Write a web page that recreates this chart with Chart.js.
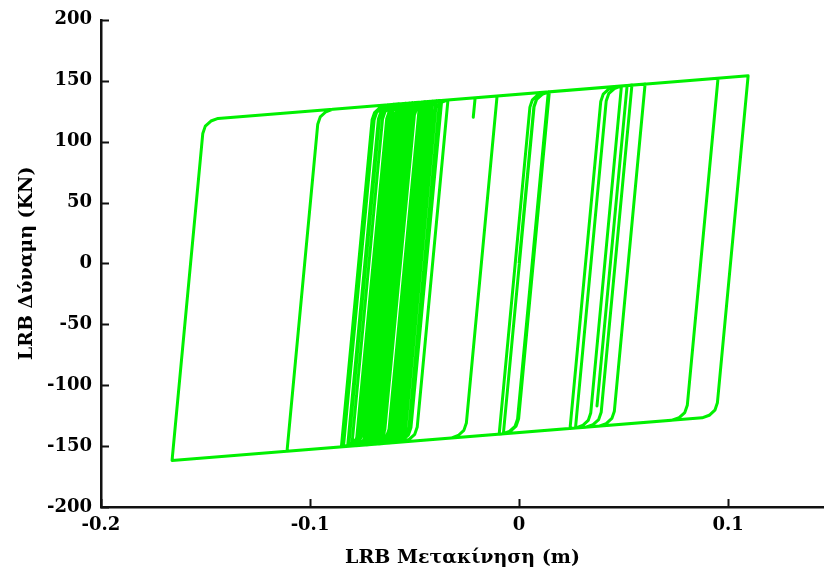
<!DOCTYPE html>
<html>
<head>
<meta charset="utf-8">
<script src="https://cdn.jsdelivr.net/npm/chart.js@4.4.1/dist/chart.umd.min.js"></script>
<style>
	html, body { margin: 0; padding: 0; background: #fff; }
	#wrap { width: 824px; height: 573px; }
</style>
</head>
<body>
<div id="wrap"><canvas id="chartLrb"></canvas></div>
<script>
// LRB hysteresis path, in time order: displacement (m) and force (kN).
// One line per branch: reversal point, then the rounded knee onto the next bound.
const disp = [
	0, 0.0071, 0.0083, 0.0110,
	0.0145, -0.0002, -0.0014, -0.0041,
	-0.0075, 0.0072, 0.0084, 0.0111,
	0.0140, -0.0007, -0.0019, -0.0046, -0.0080,
	-0.0095, 0.0052, 0.0064, 0.0091, 0.0125,
	0.1096, 0.0949, 0.0937, 0.0910, 0.0876,
	-0.1660, -0.1513, -0.1501, -0.1474, -0.1440,
	0.0952, 0.0805, 0.0793, 0.0766, 0.0732,
	-0.1110, -0.0963, -0.0951, -0.0924, -0.0890,
	0.0603, 0.0456, 0.0444, 0.0417, 0.0383,
	0.0244, 0.0391, 0.0403, 0.0430, 0.0464,
	0.0517, 0.0373, 0.0517,
	0.0540, 0.0393, 0.0381, 0.0354, 0.0320,
	0.0270, 0.0417, 0.0429, 0.0456,
	0.0490, 0.0343, 0.0331, 0.0304, 0.0270,
	-0.0560, -0.0413, -0.0401, -0.0374, -0.0340,
	-0.0210, -0.0219, -0.0210,
	-0.0105, -0.0252, -0.0264, -0.0291, -0.0325,
	-0.0780, -0.0633, -0.0621, -0.0594, -0.0560,
	-0.0450, -0.0597, -0.0609, -0.0636, -0.0670,
	-0.0720, -0.0573, -0.0561, -0.0534, -0.0500,
	-0.0380, -0.0527, -0.0539, -0.0566,
	-0.0600, -0.0453, -0.0441, -0.0414, -0.0380,
	-0.0370, -0.0517, -0.0529, -0.0556,
	-0.0590, -0.0443, -0.0431, -0.0404,
	-0.0395, -0.0542, -0.0554, -0.0581, -0.0615,
	-0.0650, -0.0503, -0.0491, -0.0464, -0.0430,
	-0.0420, -0.0567, -0.0579, -0.0606,
	-0.0625, -0.0478, -0.0466, -0.0439,
	-0.0430, -0.0577, -0.0589, -0.0616, -0.0650,
	-0.0690, -0.0543, -0.0531, -0.0504,
	-0.0465, -0.0612, -0.0624, -0.0651, -0.0685,
	-0.0745, -0.0598, -0.0586, -0.0559,
	-0.0520, -0.0667, -0.0679, -0.0706, -0.0740,
	-0.0820, -0.0673, -0.0661, -0.0634,
	-0.0600, -0.0747, -0.0759, -0.0786,
	-0.0815, -0.0668, -0.0656, -0.0629, -0.0595,
	-0.0520, -0.0667, -0.0679, -0.0706,
	-0.0740, -0.0593, -0.0581, -0.0554, -0.0520,
	-0.0460, -0.0607, -0.0619, -0.0646,
	-0.0680, -0.0533, -0.0521, -0.0494, -0.0460,
	-0.0400, -0.0547, -0.0559, -0.0586,
	-0.0610, -0.0463, -0.0451, -0.0424,
	-0.0415, -0.0562, -0.0574, -0.0601, -0.0635,
	-0.0660, -0.0513, -0.0501, -0.0474,
	-0.0440, -0.0587, -0.0599, -0.0626, -0.0660,
	-0.0670, -0.0523, -0.0511, -0.0484,
	-0.0475, -0.0622, -0.0634, -0.0661,
	-0.0700, -0.0553, -0.0541, -0.0514,
	-0.0500, -0.0647, -0.0659, -0.0686,
	-0.0710, -0.0563, -0.0551, -0.0524,
	-0.0495, -0.0642, -0.0654, -0.0681,
	-0.0715, -0.0568, -0.0556, -0.0529, -0.0495,
	-0.0465, -0.0612, -0.0624, -0.0651, -0.0685,
	-0.0730, -0.0583, -0.0571, -0.0544,
	-0.0510, -0.0657, -0.0669, -0.0696, -0.0730,
	-0.0740, -0.0593, -0.0581, -0.0554,
	-0.0525, -0.0672, -0.0684, -0.0711, -0.0745,
	-0.0765, -0.0618, -0.0606, -0.0579,
	-0.0545, -0.0692, -0.0704, -0.0731, -0.0765,
	-0.0850, -0.0703, -0.0691, -0.0664, -0.0630,
	-0.0620, -0.0767, -0.0779, -0.0806,
	-0.0840, -0.0693, -0.0681, -0.0654, -0.0620,
	-0.0575, -0.0722, -0.0734, -0.0761,
	-0.0770, -0.0623, -0.0611, -0.0584,
	-0.0555, -0.0702, -0.0714, -0.0741, -0.0775,
	-0.0800, -0.0653, -0.0641, -0.0614, -0.0580,
	-0.0340, -0.0487, -0.0499, -0.0526,
	-0.0560, -0.0480,
];
const force = [
	0, 128.6, 134.6, 138.8,
	140.9, -127.6, -133.6, -137.8,
	-139.9, 128.6, 134.6, 138.8,
	140.8, -127.7, -133.7, -137.9, -140.0,
	-140.2, 128.3, 134.3, 138.5, 140.6,
	154.0, -114.5, -120.5, -124.7, -126.8,
	-161.8, 106.7, 112.7, 116.9, 119.0,
	152.0, -116.5, -122.5, -126.7, -128.8,
	-154.2, 114.3, 120.3, 124.5, 126.6,
	147.2, -121.3, -127.3, -131.5, -133.6,
	-135.5, 133.0, 139.0, 143.2, 145.3,
	146.0, -117.0, 146.0,
	146.4, -122.2, -128.2, -132.4, -134.5,
	-135.2, 133.3, 139.3, 143.5,
	145.7, -122.9, -128.9, -133.1, -135.2,
	-146.6, 121.9, 127.9, 132.1, 134.2,
	136.0, 120.0, 136.0,
	137.5, -131.1, -137.1, -141.3, -143.4,
	-149.7, 118.8, 124.8, 129.0, 131.1,
	132.7, -135.8, -141.8, -146.0, -148.1,
	-148.8, 119.7, 125.7, 129.9, 132.0,
	133.7, -134.8, -140.8, -145.0,
	-147.2, 121.3, 127.3, 131.5, 133.6,
	133.8, -134.7, -140.7, -144.9,
	-147.0, 121.5, 127.5, 131.7,
	133.5, -135.1, -141.1, -145.3, -147.4,
	-147.9, 120.6, 126.6, 130.8, 132.9,
	133.1, -135.4, -141.4, -145.6,
	-147.5, 121.0, 127.0, 131.2,
	133.0, -135.5, -141.5, -145.7, -147.8,
	-148.4, 120.1, 126.1, 130.3,
	132.5, -136.0, -142.0, -146.2, -148.3,
	-149.2, 119.3, 125.3, 129.5,
	131.7, -136.8, -142.8, -147.0, -149.1,
	-150.2, 118.3, 124.3, 128.5,
	130.6, -137.9, -143.9, -148.1,
	-150.1, 118.4, 124.4, 128.6, 130.7,
	131.7, -136.8, -142.8, -147.0,
	-149.1, 119.4, 125.4, 129.6, 131.7,
	132.6, -135.9, -141.9, -146.1,
	-148.3, 120.2, 126.2, 130.4, 132.5,
	133.4, -135.1, -141.1, -145.3,
	-147.3, 121.2, 127.2, 131.4,
	133.2, -135.3, -141.3, -145.5, -147.6,
	-148.0, 120.5, 126.5, 130.7,
	132.8, -135.7, -141.7, -145.9, -148.0,
	-148.2, 120.4, 126.4, 130.6,
	132.3, -136.2, -142.2, -146.4,
	-148.6, 119.9, 125.9, 130.1,
	132.0, -136.5, -142.5, -146.7,
	-148.7, 119.8, 125.8, 130.0,
	132.1, -136.4, -142.4, -146.6,
	-148.8, 119.7, 125.7, 129.9, 132.1,
	132.5, -136.0, -142.0, -146.2, -148.3,
	-149.0, 119.5, 125.5, 129.7,
	131.9, -136.6, -142.6, -146.8, -149.0,
	-149.1, 119.4, 125.4, 129.6,
	131.7, -136.9, -142.9, -147.1, -149.2,
	-149.5, 119.0, 125.0, 129.2,
	131.4, -137.1, -143.1, -147.3, -149.4,
	-150.6, 117.9, 123.9, 128.1, 130.2,
	130.3, -138.2, -144.2, -148.4,
	-150.5, 118.0, 124.0, 128.2, 130.3,
	131.0, -137.5, -143.5, -147.7,
	-149.5, 119.0, 125.0, 129.2,
	131.2, -137.3, -143.3, -147.5, -149.6,
	-149.9, 118.6, 124.6, 128.8, 130.9,
	134.2, -134.3, -140.3, -144.5,
	-146.6, 0.0,
];

const X_TICKS = [-0.2, -0.1, 0, 0.1];
const Y_TICKS = [-200, -150, -100, -50, 0, 50, 100, 150, 200];
const X_TITLE = 'LRB Μετακίνηση (m)';
const Y_TITLE = 'LRB Δύναμη (KN)';

const LINE_COLOR = '#00f000';
const AXIS_COLOR = '#111111';
const FONT_FAMILY = '"DejaVu Serif", "Liberation Serif", serif';

// short tick marks pointing into the plot area
const inwardTicks = {
	id: 'inwardTicks',
	afterDraw(chart) {
		const { ctx, chartArea, scales } = chart;
		const len = 8;
		ctx.save();
		ctx.strokeStyle = AXIS_COLOR;
		ctx.lineWidth = 2;
		ctx.beginPath();
		scales.x.ticks.forEach(t => {
			const px = Math.round(scales.x.getPixelForValue(t.value)) + 0.5;
			ctx.moveTo(px, chartArea.bottom);
			ctx.lineTo(px, chartArea.bottom - len);
		});
		scales.y.ticks.forEach(t => {
			const py = Math.round(scales.y.getPixelForValue(t.value)) + 0.5;
			ctx.moveTo(chartArea.left, py);
			ctx.lineTo(chartArea.left + len, py);
		});
		ctx.stroke();
		ctx.restore();
	},
};

const tickFont = { family: FONT_FAMILY, size: 18, weight: 'bold' };
const titleFont = { family: FONT_FAMILY, size: 19, weight: 'bold' };

const ctx = document.getElementById('chartLrb').getContext('2d');
new Chart(ctx, {
	type: 'scatter',
	data: {
		datasets: [
			{
				label: 'LRB',
				data: disp.map((x, i) => ({ x: x, y: force[i] })),
				showLine: true,
				borderColor: LINE_COLOR,
				borderWidth: 3,
				borderJoinStyle: 'round',
				pointRadius: 0,
				tension: 0,
				fill: false,
			},
		],
	},
	options: {
		responsive: true,
		maintainAspectRatio: false,
		animation: false,
		layout: { padding: { top: 17, right: 0, left: 0, bottom: 0 } },
		scales: {
			x: {
				type: 'linear',
				min: -0.2,
				max: 0.1459,
				afterBuildTicks: s => {
					s.ticks = X_TICKS.map(v => ({ value: v }));
				},
				afterFit: s => {
					s.height = 66;
				},
				grid: { display: false, drawTicks: false },
				border: { display: true, color: AXIS_COLOR, width: 2.5 },
				ticks: {
					color: '#000',
					font: tickFont,
					padding: 8,
					maxRotation: 0,
					callback: v => String(v),
				},
				title: {
					display: true,
					text: X_TITLE,
					color: '#000',
					font: titleFont,
					padding: { top: 0, bottom: 4 },
				},
			},
			y: {
				type: 'linear',
				min: -200,
				max: 200,
				afterBuildTicks: s => {
					s.ticks = Y_TICKS.map(v => ({ value: v }));
				},
				afterFit: s => {
					s.width = 101;
				},
				grid: { display: false, drawTicks: false },
				border: { display: true, color: AXIS_COLOR, width: 2.5 },
				ticks: {
					color: '#000',
					font: tickFont,
					padding: 9,
					callback: v => String(v),
				},
				title: {
					display: true,
					text: Y_TITLE,
					color: '#000',
					font: titleFont,
					padding: { top: 16, bottom: 0 },
				},
			},
		},
		plugins: {
			legend: { display: false },
			tooltip: { enabled: false },
		},
	},
	plugins: [inwardTicks],
});
</script>
</body>
</html>
